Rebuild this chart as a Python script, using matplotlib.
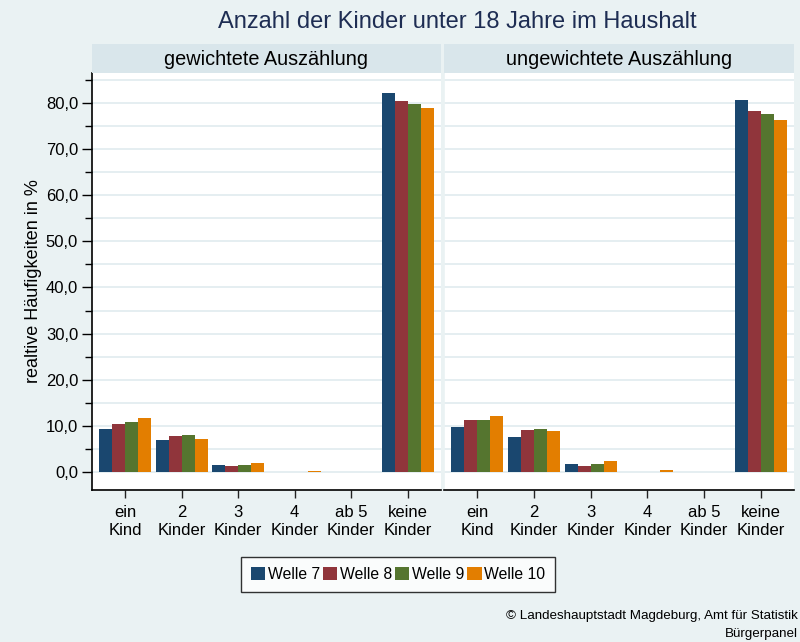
import matplotlib
matplotlib.use("Agg")
import matplotlib.pyplot as plt
import numpy as np
from matplotlib.patches import Patch
from matplotlib.ticker import MultipleLocator, FuncFormatter

plt.rcParams['font.family'] = ['Liberation Sans', 'DejaVu Sans']

categories = ["ein\nKind", "2\nKinder", "3\nKinder", "4\nKinder", "ab 5\nKinder", "keine\nKinder"]
series = ["Welle 7", "Welle 8", "Welle 9", "Welle 10"]
panels = ["gewichtete Auszählung", "ungewichtete Auszählung"]

weighted_w7 = [9.3, 6.9, 1.5, 0.1, 0.05, 82.2]
weighted_w8 = [10.4, 7.8, 1.3, 0.1, 0.05, 80.4]
weighted_w9 = [10.8, 8.0, 1.5, 0.05, 0.05, 79.8]
weighted_w10 = [11.7, 7.1, 2.0, 0.3, 0.05, 78.9]

unweighted_w7 = [9.7, 7.6, 1.7, 0.1, 0.05, 80.6]
unweighted_w8 = [11.2, 9.1, 1.3, 0.1, 0.05, 78.3]
unweighted_w9 = [11.2, 9.3, 1.7, 0.05, 0.05, 77.6]
unweighted_w10 = [12.1, 8.9, 2.4, 0.4, 0.05, 76.3]

colors = ["#1a476f", "#90353b", "#55752f", "#e37e00"]
bg = "#eaf2f3"
strip_col = "#d9e6eb"

W, H = 800, 642
fig = plt.figure(figsize=(W / 100, H / 100), dpi=100, facecolor=bg)

def fx(px):
    return px / W

def fy(py):
    return 1 - py / H

panel_x = [(92, 441), (444, 794)]
top, bottom = 73, 490
data = [
    [weighted_w7, weighted_w8, weighted_w9, weighted_w10],
    [unweighted_w7, unweighted_w8, unweighted_w9, unweighted_w10],
]

x = np.arange(len(categories))
bw = 0.23
for i, (x0, x1) in enumerate(panel_x):
    ax = fig.add_axes([fx(x0), fy(bottom), fx(x1 - x0), (bottom - top) / H])
    ax.set_facecolor("white")
    for j, vals in enumerate(data[i]):
        ax.bar(x + (j - 1.5) * bw, vals, width=bw, color=colors[j], linewidth=0, zorder=3)
    ax.set_xlim(-0.59, 5.59)
    ax.set_ylim(-3.9, 86.5)
    ax.yaxis.set_major_locator(MultipleLocator(10))
    ax.yaxis.set_minor_locator(MultipleLocator(5))
    ax.grid(axis='y', which='both', color="#e3edf0", linewidth=1.3, zorder=0)
    ax.set_xticks(x)
    ax.set_xticklabels(categories, fontsize=12, linespacing=1.2)
    ax.tick_params(axis='x', length=6, width=1, pad=5, colors='#222222', labelcolor='black')
    for s in ['top', 'right']:
        ax.spines[s].set_visible(False)
    ax.spines['bottom'].set_linewidth(1.2)
    if i == 0:
        ax.yaxis.set_major_formatter(FuncFormatter(lambda v, p: f"{v:.1f}".replace('.', ',')))
        ax.tick_params(axis='y', which='major', length=7, width=1, labelsize=12, pad=3)
        ax.tick_params(axis='y', which='minor', length=5, width=1)
        ax.spines['left'].set_linewidth(1.2)
        ax.set_ylabel("realtive Häufigkeiten in %", fontsize=13, labelpad=3)
    else:
        ax.tick_params(axis='y', which='both', length=0, labelleft=False)
        ax.spines['left'].set_color(bg)
        ax.spines['left'].set_linewidth(1.2)
    # strip header
    sax = fig.add_axes([fx(x0), fy(top), fx(x1 - x0), (top - 44) / H])
    sax.set_facecolor(strip_col)
    sax.set_xticks([])
    sax.set_yticks([])
    for s in sax.spines.values():
        s.set_visible(False)
    sax.text(0.5, 0.45, panels[i], ha='center', va='center', fontsize=14.3, transform=sax.transAxes)

fig.text(fx(457), fy(22), "Anzahl der Kinder unter 18 Jahre im Haushalt", ha='center', va='center',
         fontsize=17, color="#1e2d53")

handles = [Patch(facecolor=c, edgecolor='none') for c in colors]
leg = fig.legend(handles, series, loc='center', bbox_to_anchor=(fx(398), fy(574.5)), ncol=4,
                 fontsize=11.3, frameon=True, fancybox=False, edgecolor='black', facecolor='white',
                 handlelength=0.92, handleheight=0.92, handletextpad=0.15, columnspacing=0.2,
                 borderpad=0.65, borderaxespad=0)
leg.get_frame().set_linewidth(1.0)

fig.text(fx(798), fy(616), "© Landeshauptstadt Magdeburg, Amt für Statistik", ha='right', va='center', fontsize=9.6)
fig.text(fx(798), fy(634), "Bürgerpanel", ha='right', va='center', fontsize=9.6)

fig.savefig("out.png", dpi=100, facecolor=bg)
